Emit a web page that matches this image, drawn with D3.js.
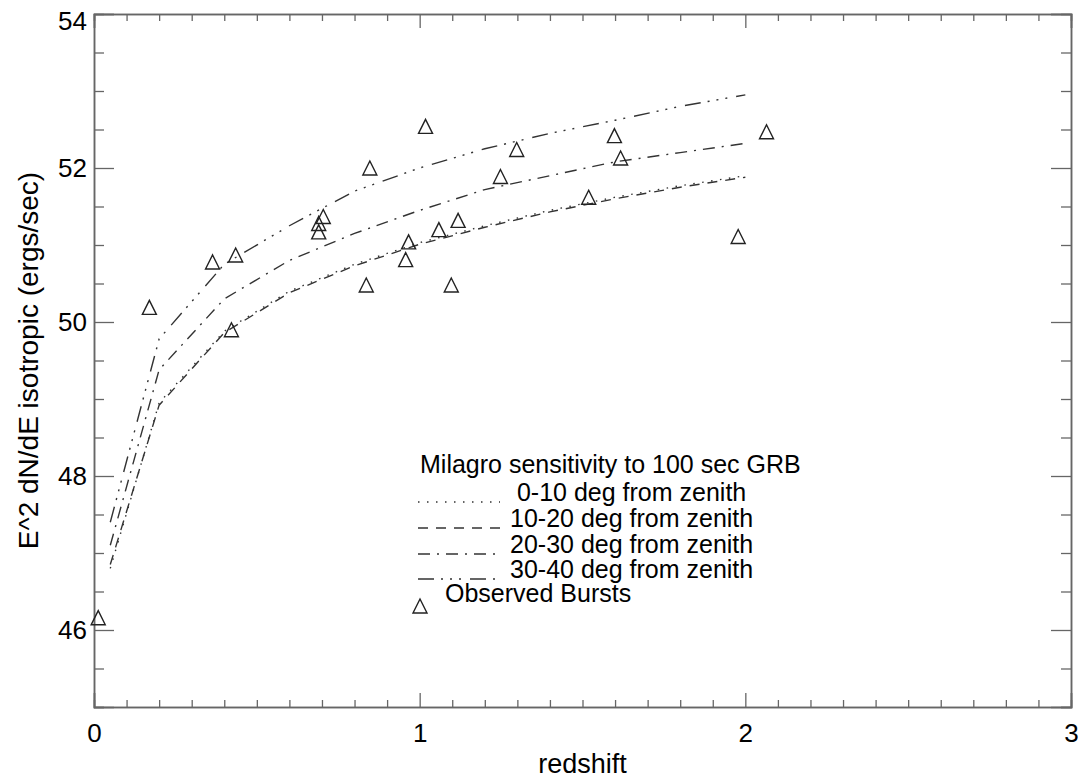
<!DOCTYPE html>
<html>
<head>
<meta charset="utf-8">
<script src="https://cdn.jsdelivr.net/npm/d3@7"></script>
<style>
  body { margin: 0; background: #fff; }
  svg text { font-family: "Liberation Sans", Arial, Helvetica, sans-serif; fill: #000; }
  .frame path.domain { stroke: #666; stroke-width: 1.5; }
  .frame .tick line { stroke: #666; stroke-width: 1.3; }
</style>
</head>
<body>
<svg id="chart" width="1084" height="780"></svg>
<script>
// ----------------------------------------------
// Data
// ----------------------------------------------
const redshiftGrid = [0.05, 0.2, 0.4, 0.6, 0.8, 1.0, 1.2, 1.4, 1.6, 1.8, 2.0];
const sens0to10  = [46.8, 48.95, 49.88, 50.4, 50.75, 51.03, 51.25, 51.45, 51.62, 51.77, 51.9];
const sens10to20 = [46.85, 48.92, 49.86, 50.38, 50.73, 51.01, 51.23, 51.43, 51.6, 51.75, 51.88];
const sens20to30 = [47.1, 49.38, 50.3, 50.8, 51.15, 51.45, 51.72, 51.9, 52.08, 52.2, 52.32];
const sens30to40 = [47.4, 49.78, 50.75, 51.25, 51.7, 52.0, 52.25, 52.45, 52.62, 52.8, 52.95];

const burstZ = [0.013, 0.17, 0.364, 0.435, 0.422, 0.69, 0.69, 0.704, 0.836, 0.847, 0.957, 0.966,
                1.018, 1.059, 1.097, 1.118, 1.248, 1.298, 1.519, 1.598, 1.617, 1.978, 2.065];
const burstE = [46.16, 50.19, 50.78, 50.87, 49.9, 51.17, 51.28, 51.37, 50.48, 52.0, 50.81, 51.04,
                52.54, 51.2, 50.48, 51.32, 51.89, 52.24, 51.62, 52.42, 52.13, 51.11, 52.47];

const xMajor = [0, 1, 2, 3];
const yMajor = [46, 48, 50, 52, 54];

const legendTitle = 'Milagro sensitivity to 100 sec GRB';
const seriesLabels = [' 0-10 deg from zenith', '10-20 deg from zenith', '20-30 deg from zenith', '30-40 deg from zenith'];
const burstLabel = 'Observed Bursts';

// line styles, IDL-ish: dotted, dashed, dash-dot, dash-dot-dot-dot
const dashStyles = ['1.5,7.5', '10,8', '12,7,2,7', '16,7,2,7,2,7,2,9'];

// ----------------------------------------------
// Scales
// ----------------------------------------------
const svg = d3.select('#chart');
const x = d3.scaleLinear().domain([0, 3]).range([94, 1071]);
const y = d3.scaleLinear().domain([45, 54]).range([707, 14]);

const minorX = d3.range(0, 3.0001, 0.1).map(v => +v.toFixed(1)).filter(v => !xMajor.includes(v));
const minorY = d3.range(45, 54.0001, 0.5).filter(v => !yMajor.includes(v));

// ----------------------------------------------
// Frame and ticks (all four sides, pointing inward)
// ----------------------------------------------
function addAxis(axis, tx, ty) {
  return svg.append('g').attr('class', 'frame')
    .attr('transform', `translate(${tx},${ty})`)
    .call(axis);
}

addAxis(d3.axisBottom(x).tickValues(xMajor).tickSize(-14).tickPadding(17).tickFormat(d3.format('d')), 0, 707);
addAxis(d3.axisBottom(x).tickValues(minorX).tickSize(-7).tickFormat(''), 0, 707);
addAxis(d3.axisTop(x).tickValues(xMajor).tickSize(-14).tickFormat(''), 0, 14);
addAxis(d3.axisTop(x).tickValues(minorX).tickSize(-7).tickFormat(''), 0, 14);

const left = addAxis(d3.axisLeft(y).tickValues(yMajor).tickSize(-20).tickPadding(7).tickFormat(d3.format('d')), 94, 0);
addAxis(d3.axisLeft(y).tickValues(minorY).tickSize(-10).tickFormat(''), 94, 0);
addAxis(d3.axisRight(y).tickValues(yMajor).tickSize(-20).tickFormat(''), 1071, 0);
addAxis(d3.axisRight(y).tickValues(minorY).tickSize(-10).tickFormat(''), 1071, 0);

svg.selectAll('.frame text').attr('font-size', 26).attr('font-family', '"Liberation Sans", Arial, sans-serif');
// top label sits a bit lower so it stays on the page
left.selectAll('.tick text').filter(d => d === 54).attr('dy', '0.6em');

// axis titles
svg.append('text')
  .attr('x', (x(0) + x(3)) / 2)
  .attr('y', 773)
  .attr('text-anchor', 'middle')
  .attr('font-size', 27)
  .text('redshift');

svg.append('text')
  .attr('transform', `translate(38,${(y(45) + y(54)) / 2}) rotate(-90)`)
  .attr('text-anchor', 'middle')
  .attr('font-size', 28)
  .text('E^2 dN/dE isotropic (ergs/sec)');

// ----------------------------------------------
// Sensitivity curves
// ----------------------------------------------
const curves = [sens0to10, sens10to20, sens20to30, sens30to40];
const line = d3.line()
  .x(d => x(d[0]))
  .y(d => y(d[1]));

curves.forEach((vals, i) => {
  svg.append('path')
    .datum(redshiftGrid.map((z, k) => [z, vals[k]]))
    .attr('d', line)
    .attr('fill', 'none')
    .attr('stroke', '#333')
    .attr('stroke-width', 1.4)
    .attr('stroke-dasharray', dashStyles[i]);
});

// ----------------------------------------------
// Observed bursts (open triangles)
// ----------------------------------------------
function triangle(cx, cy, r) {
  return `M${cx - r},${cy + r}L${cx},${cy - r}L${cx + r},${cy + r}Z`;
}

svg.append('g')
  .selectAll('path')
  .data(burstZ.map((z, i) => [z, burstE[i]]))
  .join('path')
  .attr('d', d => triangle(x(d[0]), y(d[1]), 7))
  .attr('fill', 'none')
  .attr('stroke', '#222')
  .attr('stroke-width', 1.4);

// ----------------------------------------------
// Legend (rows are tight, as in the original)
// ----------------------------------------------
const legend = svg.append('g').attr('font-size', 25);
legend.append('text').attr('x', 420).attr('y', 473).text(legendTitle);

const rowY = [501, 527, 553, 578];
seriesLabels.forEach((lab, i) => {
  legend.append('line')
    .attr('x1', 418).attr('x2', 500)
    .attr('y1', rowY[i] + 1).attr('y2', rowY[i] + 1)
    .attr('stroke', '#333')
    .attr('stroke-width', 1.4)
    .attr('stroke-dasharray', dashStyles[i]);
  legend.append('text')
    .attr('x', 510).attr('y', rowY[i])
    .style('white-space', 'pre')
    .text(lab);
});

legend.append('path')
  .attr('d', triangle(420, 606, 7))
  .attr('fill', 'none')
  .attr('stroke', '#222')
  .attr('stroke-width', 1.4);
legend.append('text').attr('x', 445).attr('y', 602).text(burstLabel);
</script>
</body>
</html>
